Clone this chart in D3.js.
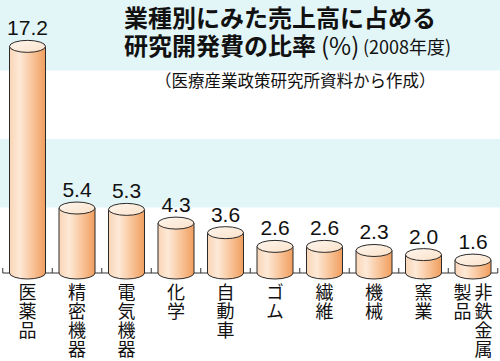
<!DOCTYPE html>
<html><head><meta charset="utf-8">
<script src="https://cdn.jsdelivr.net/npm/d3@7"></script>
<style>
html,body{margin:0;padding:0;background:#fff;}
svg{display:block;}
.vlab{writing-mode:vertical-rl;text-orientation:upright;}
</style></head>
<body>
<svg id="chart" width="500" height="361"></svg>
<script>
// ---- data ----
const categories = ["医薬品","精密機器","電気機器","化学","自動車","ゴム","繊維","機械","窯業","非鉄金属製品"];
const values = [17.2, 5.4, 5.3, 4.3, 3.6, 2.6, 2.6, 2.3, 2.0, 1.6];
const valueLabels = ["17.2","5.4","5.3","4.3","3.6","2.6","2.6","2.3","2.0","1.6"];
// vertical label columns, read right-to-left
const labelColumns = [["医薬品"],["精密機器"],["電気機器"],["化学"],["自動車"],["ゴム"],["繊維"],["機械"],["窯業"],["非鉄金属","製品"]];
const bandEdges = [0, 5, 10, 15, 20];
const titleLine1 = "業種別にみた売上高に占める";
const titleLine2 = "研究開発費の比率";
const titleUnit = "(%)";
const titleYear = "(2008年度)";
const subtitle = "（医療産業政策研究所資料から作成）";

// ---- layout ----
const W = 500, H = 361;
const svg = d3.select("#chart");
const x = d3.scaleBand().domain(categories).range([2.75, 497.75]);
const y = d3.scaleLinear().domain([0, 20]).range([276, 2]);
const rx = 18, ry = 6;
const baseY = y(0) - 3;

// background bands (alternating cyan / white)
const bands = d3.pairs(bandEdges).map((p, i) => ({lo: p[0], hi: p[1], i}));
svg.selectAll("rect.band").data(bands).enter().append("rect")
  .attr("x", 0).attr("width", W)
  .attr("y", d => d.hi === 20 ? 0 : y(d.hi))
  .attr("height", d => (d.lo === 0 ? H : y(d.lo)) - (d.hi === 20 ? 0 : y(d.hi)))
  .attr("fill", d => d.i % 2 === 1 ? "#e3f6f7" : "#ffffff");

// gradient
const defs = svg.append("defs");
const g = defs.append("linearGradient").attr("id","body").attr("x1","0").attr("x2","1").attr("y1","0").attr("y2","0");
[["0%","#fad5b6"],["28%","#fde9d7"],["65%","#f8c398"],["100%","#f09e5e"]].forEach(s=>g.append("stop").attr("offset",s[0]).attr("stop-color",s[1]));
const gt = defs.append("linearGradient").attr("id","top").attr("x1","0").attr("x2","1").attr("y1","0").attr("y2","1");
[["0%","#fef6ee"],["100%","#fbe1c8"]].forEach(s=>gt.append("stop").attr("offset",s[0]).attr("stop-color",s[1]));

// axis line with upward ticks at band boundaries
svg.append("line").attr("x1", x.range()[0]).attr("x2", x.range()[1])
  .attr("y1", baseY).attr("y2", baseY).attr("stroke","#333").attr("stroke-width",1);
const tickXs = categories.map(c => x(c)).concat([x.range()[1]]);
svg.selectAll("line.tick").data(tickXs).enter().append("line")
  .attr("x1", d => d).attr("x2", d => d)
  .attr("y1", baseY).attr("y2", baseY - 5)
  .attr("stroke","#333").attr("stroke-width",1);

// cylinders
const data = categories.map((c, i) => ({c, v: values[i], lab: valueLabels[i], cols: labelColumns[i]}));
const bar = svg.selectAll("g.bar").data(data).enter().append("g");
bar.append("path")
  .attr("d", d => {
    const cx = x(d.c) + x.bandwidth()/2, t = y(d.v) + ry;
    return `M${cx-rx},${t} L${cx-rx},${baseY} A${rx},${ry} 0 0 0 ${cx+rx},${baseY} L${cx+rx},${t} Z`;
  })
  .attr("fill","url(#body)").attr("stroke","#2a2a2a").attr("stroke-width",1);
bar.append("ellipse")
  .attr("cx", d => x(d.c) + x.bandwidth()/2)
  .attr("cy", d => y(d.v) + ry)
  .attr("rx", rx).attr("ry", ry)
  .attr("fill","url(#top)").attr("stroke","#2a2a2a").attr("stroke-width",1);
bar.append("text")
  .attr("x", d => x(d.c) + x.bandwidth()/2)
  .attr("y", d => y(d.v) - 5)
  .attr("text-anchor","middle")
  .attr("font-family","'Liberation Sans', Arial, sans-serif")
  .attr("font-size", 21).attr("fill","#111")
  .text(d => d.lab);

// vertical category labels (one text per column, vertical writing)
const fs = 18, labTop = 283;
data.forEach(d => {
  const cx = x(d.c) + x.bandwidth()/2;
  const n = d.cols.length;
  d.cols.forEach((col, j) => {
    const colX = n === 1 ? cx : cx + (n - 1) * 10.5 - j * 21;
    svg.append("text")
      .attr("class","vlab")
      .attr("x", colX).attr("y", labTop)
      .attr("font-family","'Noto Sans CJK JP', sans-serif")
      .attr("font-size", fs).attr("letter-spacing", 1)
      .attr("fill","#111")
      .text(col);
  });
});

// titles (one text block with lines as tspans)
const jp = "'Noto Sans CJK JP', sans-serif";
const title = svg.append("text").attr("font-family",jp).attr("fill","#111");
title.append("tspan").attr("x",124).attr("y",27).attr("font-weight",700).attr("font-size",24).text(titleLine1);
title.append("tspan").attr("x",124).attr("y",55).attr("font-weight",700).attr("font-size",24).text(titleLine2);
title.append("tspan").attr("x",321).attr("y",55).attr("font-size",24).text(titleUnit);
title.append("tspan").attr("x",363).attr("y",54).attr("font-size",18).text(titleYear);
svg.append("text").attr("x",155).attr("y",87).attr("font-family",jp)
  .attr("font-size",16.5).attr("fill","#111").text(subtitle);
</script>
</body></html>
